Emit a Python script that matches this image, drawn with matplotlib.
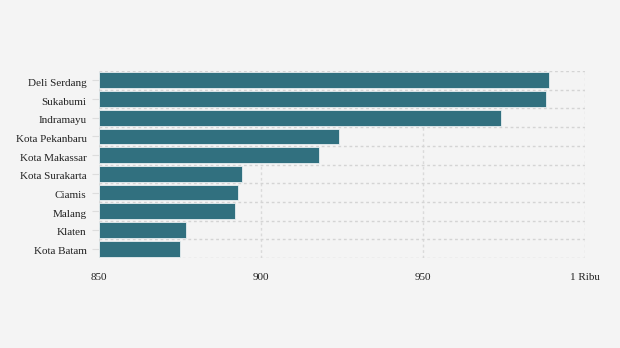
import matplotlib.pyplot as plt
import matplotlib.transforms as mtransforms
from matplotlib.ticker import FixedLocator

regions = ['Deli Serdang', 'Sukabumi', 'Indramayu', 'Kota Pekanbaru', 'Kota Makassar',
           'Kota Surakarta', 'Ciamis', 'Malang', 'Klaten', 'Kota Batam']
values = [989, 988, 974, 924, 918, 894, 893, 892, 877, 875]
x_ticks = [850, 900, 950, 1000]
x_labels = ['850', '900', '950', '1 Ribu']

plt.rcParams['font.family'] = ['Liberation Serif', 'DejaVu Serif']

fig = plt.figure(figsize=(6.2, 3.48), dpi=100)
fig.patch.set_facecolor('#f4f4f4')
ax = fig.add_axes([99 / 620, 90 / 348, 486 / 620, 187 / 348])
ax.set_facecolor('#f4f4f4')

pos = list(range(len(regions)))
ax.barh(pos, [v - 850 for v in values], left=850, height=0.84,
        color='#31707f', edgecolor='#e8eef0', linewidth=0.6, zorder=2)

ax.set_xlim(850, 1000)
ax.set_ylim(len(regions) - 0.5, -0.5)
ax.set_xticks(x_ticks)
ax.set_xticklabels(x_labels)
ax.set_yticks(pos)
ax.set_yticklabels(regions)

# grid between categories and at the x ticks
ax.yaxis.set_minor_locator(FixedLocator([p - 0.5 for p in pos] + [len(pos) - 0.5]))
ax.grid(True, axis='x', which='major', color='#d4d4d4', linestyle=(0, (2, 2)),
        linewidth=1, zorder=3, alpha=0.8)
ax.grid(True, axis='y', which='minor', color='#d4d4d4', linestyle=(0, (2, 2)),
        linewidth=1, zorder=1)

ax.tick_params(axis='y', which='major', length=5, color='#dddddd', pad=4,
               labelsize=8, labelcolor='#222222')
ax.tick_params(axis='y', which='minor', length=0)
ax.tick_params(axis='x', length=0, pad=11, labelsize=8, labelcolor='#222222')
for s in ax.spines.values():
    s.set_visible(False)

# nudge the category labels down a little
shift = mtransforms.ScaledTranslation(0, -2 / 100, fig.dpi_scale_trans)
for lab in ax.get_yticklabels():
    lab.set_transform(lab.get_transform() + shift)

fig.savefig('out.png', dpi=100, facecolor=fig.get_facecolor())
